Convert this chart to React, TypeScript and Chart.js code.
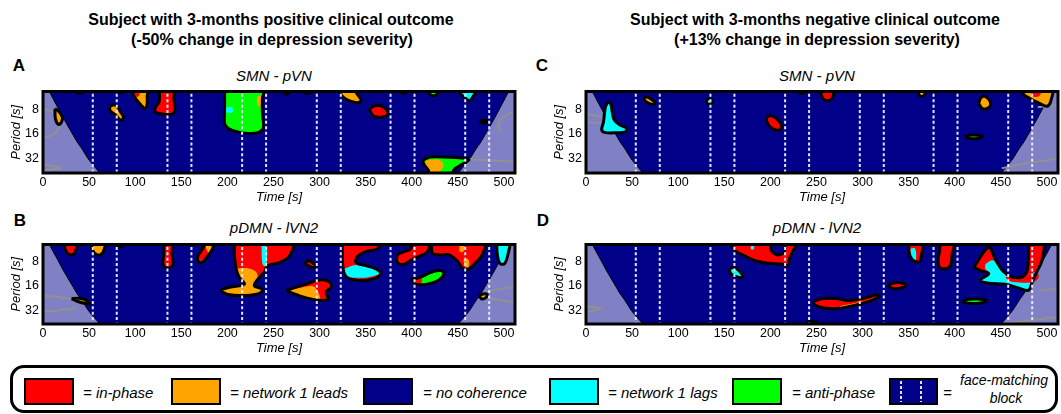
import React, { useEffect, useRef } from 'react';
import { Chart, registerables } from 'chart.js';

Chart.register(...registerables);

const FONT = '"Liberation Sans", Arial, Helvetica, sans-serif';

// ---------- axes ----------
const timeTicks = [0, 50, 100, 150, 200, 250, 300, 350, 400, 450, 500];
const periodTicks = [8, 16, 32];
const timeRange = [0, 512];
const periodRange = [4.9, 47.5];

// face-matching block boundaries (s)
const blockTimes = [54, 80, 135, 161, 216, 242, 297, 323, 377, 403, 458, 484];

// cone of influence
const coiPeriod = [4.5, 4.9, 6, 8, 10, 12, 16, 20, 24, 32, 40, 48, 52];
const coiLeftTime = [6.5, 7, 11, 17, 21.5, 25.5, 32, 37, 42, 49, 56, 62, 64];
const coiRightTime = [505.5, 505, 501, 495, 490.5, 486.5, 480, 475, 470, 463, 456, 450, 448];

type Kind = 'inPhase' | 'lead' | 'none' | 'lag' | 'anti';
interface Patch { kind: Kind; edge: boolean; time: number[]; period: number[] }
interface Trace { time: number[]; period: number[] }
const P = (kind: Kind, edge: boolean, time: number[], period: number[]): Patch => ({ kind, edge, time, period });

// ---------- Panel A : positive outcome, SMN - pVN ----------
const patchesA: Patch[] = [
  P('lead', true, [13, 17, 21, 20, 17, 13.5, 13], [7.9, 8.5, 10, 11.5, 12.3, 10.5, 7.9]),
  P('none', true, [37, 43, 42, 38, 37], [4.5, 4.5, 5.1, 5.1, 4.5]),
  P('lead', true, [72, 77, 81, 84, 87, 86, 83, 79, 73, 72], [7.5, 7.1, 7.6, 8.6, 9.8, 10.8, 10.7, 9.5, 8.4, 7.5]),
  P('none', true, [81, 88, 87, 82, 81], [4.5, 4.5, 5.0, 5.0, 4.5]),
  P('lead', true, [97, 114, 113, 113, 111, 107, 102, 98, 97], [4.5, 4.5, 5.5, 6.8, 7.9, 7.3, 6.3, 5.4, 4.5]),
  P('inPhase', false, [99, 105, 104, 100, 99], [4.5, 4.5, 5.5, 5.7, 4.5]),
  P('inPhase', true, [126, 141, 142, 143, 140, 130, 122, 122, 126, 126], [4.5, 4.5, 6, 8.2, 9.2, 9.2, 8.7, 7.6, 6.5, 4.5]),
  P('anti', true, [197, 239, 238, 238, 239, 234, 224, 212, 201, 197, 197, 197], [4.5, 4.5, 6, 9, 13.5, 15.3, 15.8, 15.2, 13.8, 12, 8, 4.5]),
  P('lag', false, [198.5, 205, 206, 199, 198.5], [7.6, 7.6, 8.7, 8.8, 7.6]),
  P('lead', false, [232, 236.5, 237, 233, 232], [5.6, 5.6, 7.4, 7.2, 5.6]),
  P('lag', true, [261, 267, 266, 262, 261], [4.5, 4.5, 5.2, 5.2, 4.5]),
  P('none', true, [283, 291, 289, 284, 283], [4.5, 4.5, 5.1, 5.1, 4.5]),
  P('lead', true, [321, 336, 341, 345, 342, 335, 328, 323, 321], [4.5, 4.5, 5.3, 6.2, 6.7, 6.5, 6.0, 5.3, 4.5]),
  P('inPhase', true, [354, 358, 366, 373, 374, 368, 359, 354], [8.2, 7.4, 7.3, 8.2, 9.3, 10, 9.8, 8.2]),
  P('none', true, [385, 396, 394, 387, 385], [4.5, 4.5, 5.0, 5.0, 4.5]),
  P('anti', true, [418, 428, 427, 422, 418, 418], [4.5, 4.5, 5.3, 5.5, 5.0, 4.5]),
  P('lag', true, [450, 472, 468, 463, 458, 453, 450], [4.5, 4.5, 5.3, 6.3, 5.9, 5.2, 4.5]),
  P('none', true, [473, 478, 483, 478, 473], [11.2, 10.9, 11.3, 11.8, 11.2]),
  P('anti', true, [412, 420, 440, 458, 462, 455, 446, 442, 420, 418, 413, 412], [33, 30.5, 30.6, 31.5, 33, 37, 43, 52, 52, 44, 37, 33]),
  P('lead', false, [415, 428, 434, 433, 428, 420, 415, 415], [33.5, 32.5, 36, 42, 47, 46, 39, 33.5]),
];
const graysA: Trace[] = [
  { time: [0, 10, 17, 18, 16, 10, 4, 0], period: [8, 8.6, 10, 12, 14.5, 16.5, 17.4, 17.6] },
  { time: [0, 10, 20, 10, 0], period: [37.5, 39, 41, 43, 45] },
  { time: [512, 503, 496, 494, 497], period: [8.6, 9.4, 11, 13, 15] },
  { time: [456, 475, 495, 512], period: [32, 33, 34, 34.5] },
];

// ---------- Panel B : positive outcome, pDMN - lVN2 ----------
const patchesB: Patch[] = [
  P('inPhase', true, [23, 37, 36, 33, 27, 24, 23], [4.5, 4.5, 5.6, 6.5, 6.4, 5.6, 4.5]),
  P('lead', true, [53, 67, 66, 62, 56, 53, 53], [4.5, 4.5, 5.8, 6.6, 6.3, 5.4, 4.5]),
  P('none', true, [78, 87, 85, 80, 78], [4.5, 4.5, 5.2, 5.2, 4.5]),
  P('inPhase', true, [131, 140, 140, 141, 138, 133, 130, 131, 131], [4.5, 4.5, 6.5, 8.5, 9.5, 9.5, 8.5, 6.5, 4.5]),
  P('inPhase', true, [175, 185, 184, 180, 176, 172, 168, 168, 171, 174, 175], [4.5, 4.5, 5.5, 6.5, 7.5, 8.3, 7.8, 6.8, 6.0, 5.3, 4.5]),
  P('lead', false, [177, 185, 184, 180, 177, 177], [4.5, 4.5, 5.5, 6.2, 5.5, 4.5]),
  P('inPhase', true, [207.6, 270.8, 267.1, 256.3, 243.7, 240.1, 232.9, 229.2, 238.3, 234.7, 220.2, 202.2, 193.1, 202.2, 218.4, 213, 209.4, 207.6, 207.6],
    [4.5, 4.5, 6.89, 8.21, 8.97, 10.69, 13.3, 16, 17.6, 19.75, 21, 20.6, 18.1, 16.6, 15.2, 12.7, 9.78, 6.6, 4.5]),
  P('lead', false, [209.4, 222, 231, 232.9, 229.2, 238.3, 234.7, 220.2, 202.2, 193.1, 202.2, 218.4, 213, 209.4],
    [9.82, 9.64, 10.69, 13.3, 16, 17.6, 19.75, 21, 20.6, 18.1, 16.6, 15.2, 12.7, 9.82]),
  P('lag', false, [237, 242, 243, 241, 238, 237], [5.0, 5.0, 7.5, 9.0, 8.5, 5.0]),
  P('inPhase', true, [284, 288, 294, 295, 291, 286, 284], [8.0, 7.8, 8.6, 9.3, 9.4, 8.7, 8.0]),
  P('inPhase', true, [264, 282, 300, 310.9, 312.7, 307.2, 309, 301.8, 285.6, 271.1, 264], [18.1, 15.6, 13.5, 14.3, 16.6, 18.9, 23.5, 24.2, 22.5, 19.75, 18.1]),
  P('lead', false, [265, 282, 292.8, 298.2, 300, 285.6, 271.1, 265], [18.1, 16.6, 16.2, 18.9, 23.3, 22.5, 19.75, 18.1]),
  P('inPhase', true, [324.9, 366.4, 362.8, 350.2, 341.2, 339.4, 350.2, 361, 366.4, 359.2, 346.6, 332.1, 326.7, 324.9, 324.9],
    [4.5, 4.5, 5.53, 6.02, 6.89, 8.21, 8.97, 9.82, 11.3, 13.0, 13.7, 13.0, 11.2, 7.86, 4.5]),
  P('lag', false, [326.7, 339.4, 350.2, 361, 364.6, 353.8, 344.8, 332.1, 327.4, 326.7], [9.82, 8.8, 9.2, 10.0, 11.3, 12.4, 12.7, 12.4, 11.2, 9.82]),
  P('inPhase', true, [400.7, 418.8, 417, 411.6, 400.7, 391.7, 384.5, 384.5, 391.7, 398.9, 400.7], [4.5, 4.5, 6.02, 6.6, 7.5, 8.6, 8.21, 6.6, 6.02, 5.53, 4.5]),
  P('anti', true, [398.9, 408, 422.4, 431.4, 435, 429.6, 417, 404.3, 398.9], [13.3, 12.6, 10.7, 10.3, 11.2, 13.5, 15.2, 15.2, 13.3]),
  P('inPhase', false, [400, 408, 411, 410, 404, 400], [13.3, 12.7, 13, 14.8, 15, 13.3]),
  P('inPhase', true, [421.7, 478.3, 476.5, 469.3, 462.1, 454.9, 449.5, 440.4, 429.6, 422.4, 421.7], [4.5, 4.5, 6.6, 8.21, 9.82, 9.6, 7.86, 6.6, 6.6, 6.3, 4.5]),
  P('lead', false, [452, 457, 456, 452, 452], [5.0, 5.0, 6.0, 6.0, 5.0]),
  P('lead', false, [456, 461, 462, 458, 456], [7.6, 7.4, 9.2, 9.4, 7.6]),
  P('lag', true, [492, 506, 505, 501, 496, 493, 492], [4.5, 4.5, 6, 8.4, 8.5, 6.8, 4.5]),
  P('lead', true, [31, 40, 48, 51, 46, 38, 31], [23, 22.8, 24.5, 26.8, 26.5, 25, 23]),
  P('lead', true, [473, 477, 482, 480, 476, 473], [21.5, 20.2, 20.5, 22.5, 23.2, 21.5]),
];
const graysB: Trace[] = [
  { time: [0, 25, 50], period: [21, 22.8, 27.2] },
  { time: [0, 15, 36], period: [33.5, 32.5, 30] },
  { time: [480, 495, 512], period: [19, 17.5, 16.4] },
  { time: [484, 498, 512], period: [22.8, 24.3, 25.7] },
];

// ---------- Panel C : negative outcome, SMN - pVN ----------
const patchesC: Patch[] = [
  P('lag', true, [21, 24, 27, 28.5, 31, 37, 44, 43, 32, 20, 17, 19, 20, 21], [7.5, 6.6, 7.0, 8.8, 11, 12.5, 13.6, 15, 15.5, 15.3, 14.2, 11.5, 9, 7.5]),
  P('lead', true, [62, 66, 72, 75, 71, 65, 62], [5.9, 5.7, 6.2, 6.8, 7.0, 6.5, 5.9]),
  P('lag', true, [130, 133, 137, 136, 132, 130], [6.4, 6.0, 6.3, 6.9, 6.9, 6.4]),
  P('none', true, [231, 237, 236, 232, 231], [4.5, 4.5, 5.1, 5.1, 4.5]),
  P('inPhase', true, [255, 268, 268, 264, 258, 255, 255], [4.5, 4.5, 5.6, 6.3, 6.1, 5.3, 4.5]),
  P('inPhase', true, [196, 200, 206, 211, 212, 207, 200, 196, 196], [10, 9.6, 10.3, 12, 13.6, 14.4, 13.2, 11.2, 10]),
  P('lead', true, [360, 369, 367, 363, 360, 360], [4.5, 4.5, 5.4, 5.6, 5.0, 4.5]),
  P('lead', true, [426, 428, 432, 437, 439, 436, 430, 426], [6.8, 5.9, 5.6, 6.1, 7.0, 7.8, 7.9, 6.8]),
  P('anti', true, [411, 416, 425, 430, 424, 415, 411], [17.3, 16.6, 16.6, 17.3, 18.2, 18.1, 17.3]),
  P('lead', true, [472, 505, 504, 500, 492, 482, 474, 472], [4.5, 4.5, 6.5, 7.4, 6.8, 6.0, 5.2, 4.5]),
  P('inPhase', false, [482, 493, 492, 484, 482], [4.5, 4.5, 5.5, 5.6, 4.5]),
];
const graysC: Trace[] = [
  { time: [0, 10, 18], period: [9.2, 9.5, 10] },
  { time: [0, 10, 17], period: [11.5, 11.6, 11.8] },
  { time: [451, 480, 512], period: [41.5, 36, 32] },
  { time: [490, 512], period: [7.6, 7.1] },
];

// ---------- Panel D : negative outcome, pDMN - lVN2 ----------
const patchesD: Patch[] = [
  P('inPhase', true, [155.7, 198.9, 200.7, 207.9, 215.1, 216.9, 229.5, 224.1, 220.5, 218.7, 213.3, 198.9, 184.5, 170.1, 161.1, 155.7],
    [4.5, 4.5, 5.78, 6.6, 6.02, 4.5, 4.5, 6.02, 7.4, 8.97, 8.6, 8.4, 7.86, 6.6, 5.78, 4.5]),
  P('lag', false, [179, 182, 182, 179, 179], [5.0, 5.0, 5.6, 5.6, 5.0]),
  P('lag', true, [155, 158, 163, 168, 170, 165, 158, 155], [10.2, 9.5, 9.7, 11, 12.3, 12.5, 11.5, 10.2]),
  P('inPhase', true, [247.6, 256.6, 271, 285.4, 299.8, 316, 317.8, 303.4, 285.4, 271, 256.6, 247.6, 247.6],
    [24.6, 22.9, 22.9, 24.2, 22.9, 20.6, 21.9, 25.7, 28.8, 30.6, 29.8, 27.3, 24.6]),
  P('lead', false, [275, 290, 300, 302, 290, 278, 275], [28.5, 26.5, 25, 25.8, 28, 29.5, 28.5]),
  P('none', true, [238, 253, 250, 245, 240, 238], [52, 52, 45, 44, 45.5, 52]),
  P('inPhase', true, [327, 332, 341, 347, 342, 333, 327], [15.9, 14.8, 14.6, 15.5, 17, 17.2, 15.9]),
  P('inPhase', true, [350.3, 364.7, 364, 361.8, 357.5, 353.2, 350.3, 350.3], [4.5, 4.5, 6.6, 8, 8, 7.4, 6.02, 4.5]),
  P('lag', false, [352, 357, 358, 355, 352, 352], [5.5, 5.5, 7.5, 7.6, 6.5, 5.5]),
  P('inPhase', true, [384.5, 398.9, 397.1, 395.3, 389.9, 383.4, 381.9, 383.4, 384.5], [4.5, 4.5, 6.6, 8.97, 9.82, 9.4, 7.5, 6.02, 4.5]),
  P('anti', true, [408, 414, 425, 435, 428, 415, 408], [25, 23.5, 23.3, 24.4, 26, 26.3, 25]),
  P('inPhase', true, [420.5, 436.8, 444, 453, 462, 472.8, 478.2, 480, 481.8, 496.2, 494.4, 489, 483.6, 480, 469.2, 454.8, 436.8, 427.7, 436.8, 427.7, 420.5],
    [9.4, 5.3, 7.5, 10.7, 12.4, 12.4, 10.7, 7.4, 4.5, 4.5, 7.86, 10.7, 14.8, 18.1, 17.0, 15.2, 14.8, 13.6, 11.3, 10.3, 9.4]),
  P('lag', false, [433.2, 440.4, 445.8, 453, 462, 472.8, 480, 487.9, 483.6, 480, 469.2, 454.8, 436.8, 429.5, 438.6, 433.2, 433.2],
    [8.6, 7.7, 8.2, 11.0, 12.8, 12.9, 11.6, 10.9, 14.8, 17.6, 16.6, 14.9, 14.3, 13.6, 11.3, 9.82, 8.6]),
  P('inPhase', false, [455, 470, 480, 490, 491, 486, 470, 458, 455], [12.3, 12.6, 11.6, 11.2, 12.5, 14.2, 14.5, 13.8, 12.3]),
];
const graysD: Trace[] = [
  { time: [0, 10, 16, 8, 0], period: [28.5, 29.5, 31, 32.5, 33.5] },
  { time: [491, 512], period: [18, 17.4] },
  { time: [453, 480, 512], period: [47, 43, 39] },
];

// ---------- styles ----------
const NAVY = '#000088';
const PALETTE: Record<Kind, string> = {
  inPhase: '#ff0000',
  lead: '#ffa500',
  none: NAVY,
  lag: '#00ffff',
  anti: '#00ff00',
};

const pts = (time: number[], period: number[]) => time.map((t, i) => ({ x: t, y: period[i] }));

function buildDatasets(patches: Patch[], grays: Trace[]) {
  const base = { showLine: true, pointRadius: 0, pointHoverRadius: 0, clip: 0, tension: 0.35 };
  const layers: any[] = [];
  const pTop = coiPeriod[0];
  const pBot = coiPeriod[coiPeriod.length - 1];
  layers.push({
    ...base, tension: 0.2,
    data: [{ x: -10, y: pTop }, ...pts(coiLeftTime, coiPeriod), { x: -10, y: pBot }, { x: -10, y: pTop }],
    fill: 'shape', backgroundColor: 'rgba(255,255,255,0.5)', borderColor: '#000', borderWidth: 1,
  });
  layers.push({
    ...base, tension: 0.2,
    data: [{ x: 522, y: pTop }, ...pts(coiRightTime, coiPeriod), { x: 522, y: pBot }, { x: 522, y: pTop }],
    fill: 'shape', backgroundColor: 'rgba(255,255,255,0.5)', borderColor: '#000', borderWidth: 1,
  });
  grays.forEach((g) => layers.push({
    ...base, data: pts(g.time, g.period), fill: false, borderColor: 'rgba(145,145,145,1)', borderWidth: 2,
  }));
  patches.forEach((p) => layers.push({
    ...base, data: pts(p.time, p.period), fill: 'shape',
    backgroundColor: PALETTE[p.kind], borderColor: 'transparent', borderWidth: 0,
  }));
  patches.filter((p) => p.edge).forEach((p) => layers.push({
    ...base, data: pts(p.time, p.period), fill: false, borderColor: '#000', borderWidth: 3,
  }));
  blockTimes.forEach((t) => layers.push({
    ...base, tension: 0, data: [{ x: t, y: pTop }, { x: t, y: pBot }], fill: false,
    borderColor: '#e4e4ff', borderWidth: 2, borderDash: [3, 2.4],
  }));
  return layers.map((d, i) => ({ ...d, order: layers.length - i }));
}

const framePlugin = {
  id: 'frame',
  beforeDatasetsDraw(chart: any) {
    const { ctx, chartArea: a } = chart;
    ctx.save();
    ctx.fillStyle = NAVY;
    ctx.fillRect(a.left, a.top, a.right - a.left, a.bottom - a.top);
    ctx.restore();
  },
  afterDatasetsDraw(chart: any) {
    const { ctx, chartArea: a } = chart;
    ctx.save();
    ctx.strokeStyle = '#000';
    ctx.lineWidth = 3;
    ctx.strokeRect(a.left, a.top, a.right - a.left, a.bottom - a.top);
    ctx.restore();
  },
};

function Panel({ left, top, height, patches, grays }: { left: number; top: number; height: number; patches: Patch[]; grays: Trace[] }) {
  const ref = useRef<HTMLCanvasElement>(null);
  useEffect(() => {
    const chart = new Chart(ref.current as HTMLCanvasElement, {
      type: 'scatter',
      data: { datasets: buildDatasets(patches, grays) },
      plugins: [framePlugin],
      options: {
        animation: false,
        responsive: false,
        maintainAspectRatio: false,
        events: [],
        layout: { padding: { top: 7, right: 10, bottom: 0, left: 0 } },
        plugins: { legend: { display: false }, tooltip: { enabled: false }, title: { display: false } },
        scales: {
          x: {
            type: 'linear', min: timeRange[0], max: timeRange[1],
            grid: { display: false, drawTicks: false, tickLength: 0 }, border: { display: false },
            ticks: { color: '#000', padding: 2, autoSkip: false, maxRotation: 0, font: { family: FONT, size: 12.5 } },
            title: { display: true, text: 'Time [s]', color: '#000', font: { family: FONT, size: 13, style: 'italic' }, padding: { top: 0, bottom: 5 } },
            afterBuildTicks: (s: any) => { s.ticks = timeTicks.map((v) => ({ value: v })); },
            afterFit: (s: any) => { s.height = 37; },
          },
          y: {
            type: 'logarithmic', reverse: true, min: periodRange[0], max: periodRange[1],
            grid: { display: false, drawTicks: false, tickLength: 0 }, border: { display: false },
            ticks: { color: '#000', padding: 4, autoSkip: false, font: { family: FONT, size: 12.5 }, callback: (v: any) => String(v) },
            title: { display: true, text: 'Period [s]', color: '#000', font: { family: FONT, size: 13, style: 'italic' }, padding: { top: 9, bottom: 0 } },
            afterBuildTicks: (s: any) => { s.ticks = periodTicks.map((v) => ({ value: v })); },
            afterFit: (s: any) => { s.width = 43; },
          },
        },
      } as any,
    });
    return () => chart.destroy();
  }, [patches, grays]);
  return <canvas ref={ref} width={525} height={height} style={{ position: 'absolute', left, top, width: 525, height }} />;
}

function Txt({ x, y, size, bold, italic, align = 'center', children }: any) {
  return (
    <div style={{
      position: 'absolute', left: x, top: y, whiteSpace: 'nowrap', lineHeight: 1,
      fontSize: size, fontWeight: bold ? 700 : 400, fontStyle: italic ? 'italic' : 'normal',
      transform: align === 'center' ? 'translate(-50%, -50%)' : 'translate(0, -50%)',
    }}>{children}</div>
  );
}

const legendKinds: Kind[] = ['inPhase', 'lead', 'none', 'lag', 'anti'];
const legendLabels = ['= in-phase', '= network 1 leads', '= no coherence', '= network 1 lags', '= anti-phase'];

function Legend() {
  const swatchLeft = [24, 171, 363, 549, 732];
  const labelLeft = [83, 230, 423, 608, 792];
  const sw = { position: 'absolute' as const, top: 378, width: 50, height: 27, boxSizing: 'border-box' as const, border: '2px solid #000' };
  const dots = { position: 'absolute' as const, top: 1, bottom: 1, width: 2, background: 'repeating-linear-gradient(to bottom, #e4e4ff 0 3px, transparent 3px 5px)' };
  return (
    <>
      <div style={{ position: 'absolute', left: 10, top: 365, width: 1048, height: 48, boxSizing: 'border-box', border: '3px solid #000', borderRadius: 14 }} />
      {legendKinds.map((k, i) => (
        <React.Fragment key={k}>
          <div style={{ ...sw, left: swatchLeft[i], background: PALETTE[k] }} />
          <Txt x={labelLeft[i]} y={392} size={15} italic align="left">{legendLabels[i]}</Txt>
        </React.Fragment>
      ))}
      <div style={{ ...sw, left: 889, width: 49, background: NAVY }}>
        <div style={{ ...dots, left: 9 }} />
        <div style={{ ...dots, left: 29 }} />
      </div>
      <Txt x={943} y={392} size={15} italic align="left">=</Txt>
      <Txt x={1004} y={380} size={14} italic>face-matching</Txt>
      <Txt x={1006} y={398} size={14} italic>block</Txt>
    </>
  );
}

export default function App() {
  return (
    <div style={{ position: 'fixed', left: 0, top: 0, width: 1061, height: 414, overflow: 'hidden', background: '#fff', fontFamily: FONT, color: '#000' }}>
      <Txt x={271} y={20} size={16} bold>Subject with 3-months positive clinical outcome</Txt>
      <Txt x={272} y={40} size={16} bold>(-50% change in depression severity)</Txt>
      <Txt x={815} y={20} size={16} bold>Subject with 3-months negative clinical outcome</Txt>
      <Txt x={817} y={40} size={16} bold>(+13% change in depression severity)</Txt>

      <Txt x={19} y={65} size={17} bold>A</Txt>
      <Txt x={20} y={220} size={17} bold>B</Txt>
      <Txt x={542} y={65} size={17} bold>C</Txt>
      <Txt x={543} y={220} size={17} bold>D</Txt>

      <Txt x={274} y={75} size={15} italic>SMN - pVN</Txt>
      <Txt x={274} y={227} size={15} italic>pDMN - lVN2</Txt>
      <Txt x={817} y={75} size={15} italic>SMN - pVN</Txt>
      <Txt x={817} y={227} size={15} italic>pDMN - lVN2</Txt>

      <Panel left={0} top={80} height={130} patches={patchesA} grays={graysA} />
      <Panel left={0} top={233} height={128} patches={patchesB} grays={graysB} />
      <Panel left={543} top={80} height={130} patches={patchesC} grays={graysC} />
      <Panel left={543} top={233} height={128} patches={patchesD} grays={graysD} />

      <Legend />
    </div>
  );
}
